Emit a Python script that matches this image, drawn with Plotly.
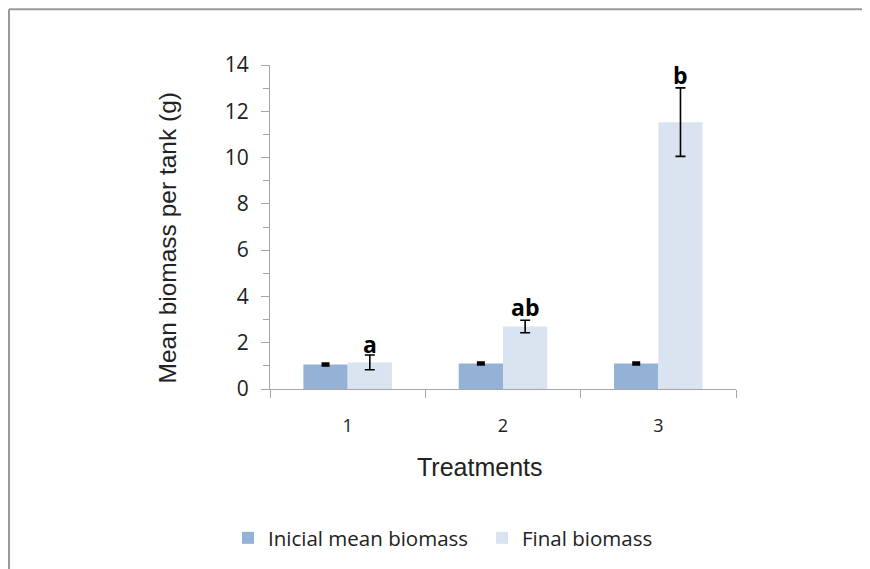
import plotly.graph_objects as go

treatments = ["1", "2", "3"]
initial_mean = [1.06, 1.10, 1.10]
initial_err = [0.04, 0.04, 0.04]
final_mean = [1.15, 2.70, 11.53]
final_err = [0.32, 0.27, 1.48]
sig_letters = ["a", "ab", "b"]
letter_y = [1.94, 3.53, 13.57]

fig = go.Figure()
fig.add_trace(go.Bar(
    x=treatments, y=initial_mean, name="Inicial mean biomass",
    marker=dict(color="#94B1D6", line=dict(width=0)),
    error_y=dict(type="data", array=initial_err, color="black", thickness=2.5, width=4),
))
fig.add_trace(go.Bar(
    x=treatments, y=final_mean, name="Final biomass",
    marker=dict(color="#DAE4F1", line=dict(width=0)),
    error_y=dict(type="data", array=final_err, color="black", thickness=1.6, width=5),
))

for i, (lab, ly) in enumerate(zip(sig_letters, letter_y)):
    fig.add_annotation(x=i, y=ly, text="<b>%s</b>" % lab, showarrow=False,
                       xshift=22, yanchor="middle",
                       font=dict(family="Open Sans", size=23, color="black"))

# axis titles as annotations
fig.add_annotation(xref="paper", yref="paper", x=(480 - 270) / 466, y=(390 - 468) / 325,
                   text="Treatments", showarrow=False, xanchor="center", yanchor="middle",
                   font=dict(family="Liberation Sans", size=25, color="#222"))
fig.add_annotation(xref="paper", yref="paper", x=(167 - 270) / 466, y=(390 - 239) / 325,
                   text="Mean biomass per tank (g)", showarrow=False, textangle=-90,
                   xanchor="center", yanchor="middle",
                   font=dict(family="Liberation Sans", size=24.5, color="#222"))

# page frame lines
frame = dict(color="#9a9a9a", width=2)
fx = (9 - 270) / 466
fy = (390 - 9) / 325
fig.add_shape(type="line", xref="paper", yref="paper",
              x0=fx, x1=(880 - 270) / 466, y0=fy, y1=fy, line=frame)
fig.add_shape(type="line", xref="paper", yref="paper",
              x0=fx, x1=fx, y0=fy, y1=(390 - 580) / 325, line=frame)

fig.update_layout(
    width=862, height=561,
    margin=dict(l=262, r=134, t=57, b=179),
    paper_bgcolor="white", plot_bgcolor="white",
    barmode="group", bargap=0.43, bargroupgap=0,
    showlegend=True,
    legend=dict(orientation="h", x=(228 - 270) / 466, y=(390 - 538) / 325,
                xanchor="left", yanchor="middle",
                font=dict(family="Open Sans", size=20.5, color="#222"),
                entrywidth=209, traceorder="normal"),
    xaxis=dict(type="category", showline=True, linecolor="#a6a6a6", linewidth=1.3,
               ticks="outside", tickson="boundaries", ticklen=8, tickcolor="#a6a6a6",
               ticklabelstandoff=20,
               tickfont=dict(family="Open Sans", size=18, color="#222"),
               showgrid=False),
    yaxis=dict(range=[0, 14], dtick=2, showline=True, linecolor="#a6a6a6", linewidth=1.3,
               ticks="outside", ticklen=8, tickcolor="#a6a6a6",
               ticklabelstandoff=8,
               minor=dict(dtick=1, ticks="outside", ticklen=6, tickcolor="#a6a6a6"),
               tickfont=dict(family="Open Sans", size=21, color="#222"),
               showgrid=False, zeroline=False),
)

fig.write_html("out.html")
